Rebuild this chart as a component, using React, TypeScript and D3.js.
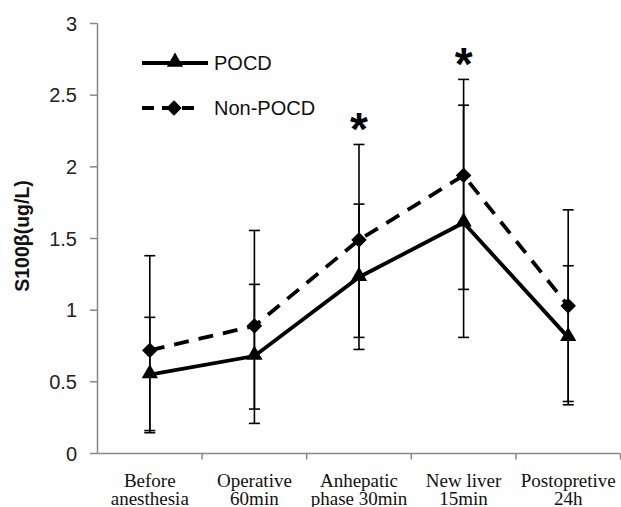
import React from "react";
import * as d3 from "d3";

const categories = [
  ["Before", "anesthesia"],
  ["Operative", "60min"],
  ["Anhepatic", "phase 30min"],
  ["New liver", "15min"],
  ["Postopretive", "24h"],
];
const pocd = [0.55, 0.68, 1.23, 1.61, 0.81];
const pocdLow = [0.145, 0.21, 0.726, 0.81, 0.34];
const pocdHigh = [0.95, 1.18, 1.74, 2.43, 1.31];
const nonPocd = [0.72, 0.89, 1.49, 1.94, 1.03];
const nonPocdLow = [0.16, 0.31, 0.81, 1.145, 0.363];
const nonPocdHigh = [1.38, 1.556, 2.156, 2.61, 1.7];
const yTicks = [0, 0.5, 1, 1.5, 2, 2.5, 3];
const yTickLabels = ["0", "0.5", "1", "1.5", "2", "2.5", "3"];
const significant = [false, false, true, true, false];
const seriesNames = ["POCD", "Non-POCD"];

const W = 621;
const H = 507;

export default function App() {
  const x = d3
    .scaleBand<number>()
    .domain(categories.map((_, i) => i))
    .range([97.5, 620.5]);
  const y = d3.scaleLinear().domain([0, 3]).range([453.5, 23.5]);
  const cx = (i: number) => (x(i) as number) + x.bandwidth() / 2;
  const line = d3
    .line<number>()
    .x((_, i) => cx(i))
    .y((d) => y(d));
  const tri = d3.symbol().type(d3.symbolTriangle).size(115)();
  const dia = d3.symbol().type(d3.symbolSquare).size(100)();
  const capW = 5.5;
  const sans = "'Liberation Sans', Arial, sans-serif";
  const serif = "'Liberation Serif', 'Times New Roman', serif";

  const errBars = (vals: number[], lo: number[], hi: number[], key: string) =>
    vals.map((_, i) => (
      <g key={key + i} stroke="#000" strokeWidth={1.6}>
        <line x1={cx(i)} x2={cx(i)} y1={y(lo[i])} y2={y(hi[i])} />
        <line x1={cx(i) - capW} x2={cx(i) + capW} y1={y(lo[i])} y2={y(lo[i])} />
        <line x1={cx(i) - capW} x2={cx(i) + capW} y1={y(hi[i])} y2={y(hi[i])} />
      </g>
    ));

  return (
    <svg width={W} height={H} style={{ position: "absolute", left: 0, top: 0 }}>
      <rect width={W} height={H} fill="#fff" />
      {/* axes */}
      <line x1={97.5} x2={97.5} y1={y(3)} y2={y(0)} stroke="#888" strokeWidth={1.5} />
      <line x1={97.5} x2={620.5} y1={y(0)} y2={y(0)} stroke="#888" strokeWidth={1.5} />
      {yTicks.map((t, i) => (
        <g key={"yt" + i}>
          <line x1={90} x2={97.5} y1={y(t)} y2={y(t)} stroke="#888" strokeWidth={1.5} />
          <text
            x={77}
            y={y(t)}
            dy="0.35em"
            textAnchor="end"
            fontFamily={sans}
            fontSize={20}
            fill="#222"
          >
            {yTickLabels[i]}
          </text>
        </g>
      ))}
      {categories.map((_, i) => (
        <line
          key={"xt" + i}
          x1={(x(i) as number) + x.bandwidth()}
          x2={(x(i) as number) + x.bandwidth()}
          y1={y(0)}
          y2={y(0) + 6}
          stroke="#888"
          strokeWidth={1.5}
        />
      ))}
      {categories.map((c, i) => (
        <text key={"xl" + i} x={cx(i)} textAnchor="middle" fontFamily={serif} fontSize={19} fill="#111">
          <tspan x={cx(i)} y={487}>{c[0]}</tspan>
          <tspan x={cx(i)} y={505}>{c[1]}</tspan>
        </text>
      ))}
      <text
        transform={`translate(29,236) rotate(-90)`}
        textAnchor="middle"
        fontFamily={sans}
        fontWeight="bold"
        fontSize={19.5}
        fill="#111"
      >
        S100β(ug/L)
      </text>

      {/* error bars */}
      {errBars(nonPocd, nonPocdLow, nonPocdHigh, "n")}
      {errBars(pocd, pocdLow, pocdHigh, "p")}

      {/* lines */}
      <path d={line(nonPocd) as string} fill="none" stroke="#000" strokeWidth={3.8} strokeDasharray="15,10" />
      <path d={line(pocd) as string} fill="none" stroke="#000" strokeWidth={3.8} />
      {nonPocd.map((v, i) => (
        <path
          key={"nd" + i}
          d={dia as string}
          transform={`translate(${cx(i)},${y(v)}) rotate(45)`}
          fill="#000"
          stroke="#000"
          strokeWidth={1}
          strokeLinejoin="round"
        />
      ))}
      {pocd.map((v, i) => (
        <path key={"pt" + i} d={tri as string} transform={`translate(${cx(i)},${y(v) - 1})`} fill="#000" />
      ))}

      {/* significance */}
      {significant.map((s, i) =>
        s ? (
          <text
            key={"st" + i}
            x={cx(i)}
            y={y(nonPocdHigh[i]) + 1}
            textAnchor="middle"
            fontFamily={sans}
            fontSize={46}
            fontWeight="bold"
            fill="#000"
          >
            *
          </text>
        ) : null
      )}

      {/* legend */}
      <line x1={142} x2={208} y1={63} y2={63} stroke="#000" strokeWidth={3.8} />
      <path d={tri as string} transform="translate(175,62)" fill="#000" />
      <text x={214} y={63} dy="0.36em" fontFamily={sans} fontSize={20} fill="#111">
        {seriesNames[0]}
      </text>
      <line x1={142} x2={202} y1={108} y2={108} stroke="#000" strokeWidth={3.8} strokeDasharray="12,8" />
      <path
        d={dia as string}
        transform="translate(174,108) rotate(45)"
        fill="#000"
        stroke="#000"
        strokeWidth={1}
        strokeLinejoin="round"
      />
      <text x={214} y={108} dy="0.36em" fontFamily={sans} fontSize={20} fill="#111">
        {seriesNames[1]}
      </text>
    </svg>
  );
}
